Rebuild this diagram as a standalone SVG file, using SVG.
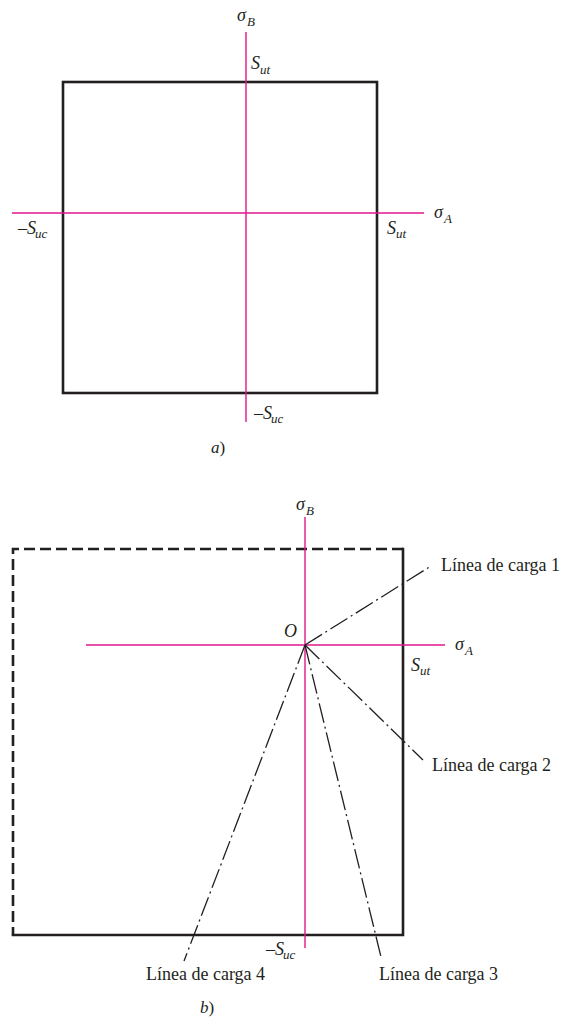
<svg xmlns="http://www.w3.org/2000/svg" width="563" height="1017" viewBox="0 0 563 1017">
<defs>
<style>
.bg{fill:#ffffff}
.axis{stroke:#e2168c;stroke-width:1.4;fill:none}
.edge{stroke:#231f20;stroke-width:2.6;fill:none;stroke-linecap:square}
.dash{stroke:#231f20;stroke-width:2.6;fill:none;stroke-dasharray:11 5}
.load{stroke:#231f20;stroke-width:1.3;fill:none;stroke-dasharray:20 4 2 4}
.sym{font-family:"Liberation Serif","Times New Roman",serif;font-style:italic;font-size:18px;fill:#231f20}
.sub{font-size:13px}
.lbl{font-family:"Liberation Serif","Times New Roman",serif;font-size:18px;fill:#231f20}
.cap{font-family:"Liberation Serif","Times New Roman",serif;font-size:17px;fill:#231f20}
</style>
</defs>
<rect class="bg" x="0" y="0" width="563" height="1017"/>

<!-- Diagram a -->
<g id="diagram-a">
  <g id="a-region">
    <rect class="edge" x="63" y="82" width="314" height="311"/>
  </g>
  <g id="a-axes">
    <line class="axis" x1="246" y1="32" x2="246" y2="422"/>
    <line class="axis" x1="12" y1="213" x2="424" y2="213"/>
  </g>
  <g id="a-labels">
    <text class="sym" x="237" y="21">σ<tspan class="sub" x="247" y="26">B</tspan></text>
    <text class="sym" x="251" y="69">S<tspan class="sub" x="260" y="74">ut</tspan></text>
    <text class="sym" x="434" y="218">σ<tspan class="sub" x="444" y="223">A</tspan></text>
    <text class="sym" x="387" y="234">S<tspan class="sub" x="396" y="238">ut</tspan></text>
    <text class="sym" x="18" y="234">–S<tspan class="sub" x="35" y="238">uc</tspan></text>
    <text class="sym" x="254" y="419">–S<tspan class="sub" x="271" y="423">uc</tspan></text>
    <text class="cap" x="211" y="453"><tspan font-style="italic">a</tspan>)</text>
  </g>
</g>

<!-- Diagram b -->
<g id="diagram-b">
  <g id="b-region">
    <path class="dash" d="M403,549 H13 V935"/>
    <path class="edge" d="M403,549 V935 H13"/>
  </g>
  <g id="b-axes">
    <line class="axis" x1="305" y1="517" x2="305" y2="948"/>
    <line class="axis" x1="86" y1="645" x2="445" y2="645"/>
  </g>
  <g id="connectors">
    <line id="load-1" class="load" x1="305" y1="645" x2="431" y2="566"/>
    <line id="load-2" class="load" x1="305" y1="645" x2="423" y2="760"/>
    <line id="load-3" class="load" x1="305" y1="645" x2="381" y2="957"/>
    <line id="load-4" class="load" x1="305" y1="645" x2="184" y2="961"/>
  </g>
  <g id="b-labels">
    <text class="sym" x="296" y="510">σ<tspan class="sub" x="306" y="515">B</tspan></text>
    <text class="sym" x="284" y="637">O</text>
    <text class="sym" x="455" y="650">σ<tspan class="sub" x="465" y="655">A</tspan></text>
    <text class="sym" x="411" y="671">S<tspan class="sub" x="420" y="675">ut</tspan></text>
    <text class="sym" x="266" y="955">–S<tspan class="sub" x="283" y="959">uc</tspan></text>
  </g>
  <g id="label-1"><text class="lbl" x="441" y="571">Línea de carga 1</text></g>
  <g id="label-2"><text class="lbl" x="432" y="771">Línea de carga 2</text></g>
  <g id="label-3"><text class="lbl" x="379" y="980">Línea de carga 3</text></g>
  <g id="label-4"><text class="lbl" x="146" y="980">Línea de carga 4</text></g>
  <text class="cap" x="200" y="1013"><tspan font-style="italic">b</tspan>)</text>
</g>
</svg>
